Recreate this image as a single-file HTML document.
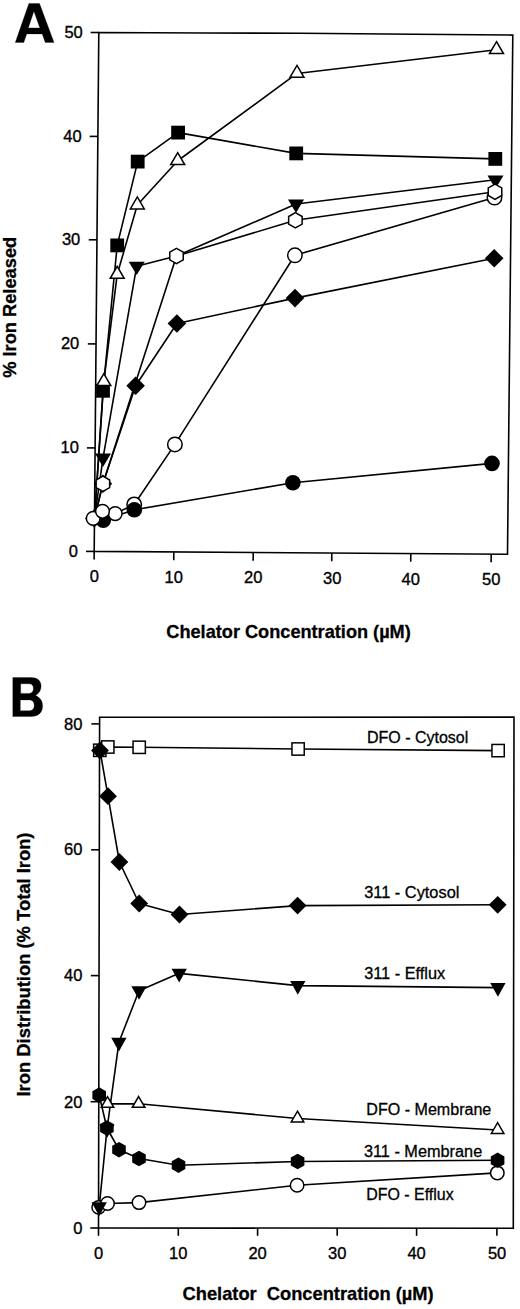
<!DOCTYPE html>
<html><head><meta charset="utf-8"><style>
html,body{margin:0;padding:0;background:#fff;}
body{width:520px;height:1309px;overflow:hidden;}
svg{display:block;}
text{font-family:"Liberation Sans",sans-serif;fill:#000;}
</style></head><body>
<svg width="520" height="1309" viewBox="0 0 520 1309">
<rect width="520" height="1309" fill="#fff"/>
<path d="M94.2,551.4 L98.8,32.5 L205,33.0 L300,33.3 L415,34.2 L512.8,35.1 L507.5,554.2 Z" fill="none" stroke="#000" stroke-width="1.6" stroke-linejoin="miter"/>
<line x1="90.6" y1="32.5" x2="98.8" y2="32.5" stroke="#000" stroke-width="1.6"/>
<line x1="89.68" y1="136.4" x2="97.88" y2="136.4" stroke="#000" stroke-width="1.6"/>
<line x1="88.76" y1="239.8" x2="96.96" y2="239.8" stroke="#000" stroke-width="1.6"/>
<line x1="87.84" y1="343.9" x2="96.04" y2="343.9" stroke="#000" stroke-width="1.6"/>
<line x1="86.92" y1="447.9" x2="95.12" y2="447.9" stroke="#000" stroke-width="1.6"/>
<line x1="86" y1="551.4" x2="94.2" y2="551.4" stroke="#000" stroke-width="1.6"/>
<line x1="94.2" y1="551.4" x2="94.13" y2="559.6" stroke="#000" stroke-width="1.6"/>
<line x1="173.8" y1="551.94" x2="173.73" y2="560.14" stroke="#000" stroke-width="1.6"/>
<line x1="253.2" y1="552.48" x2="253.13" y2="560.68" stroke="#000" stroke-width="1.6"/>
<line x1="331.8" y1="553.02" x2="331.73" y2="561.22" stroke="#000" stroke-width="1.6"/>
<line x1="410.8" y1="553.55" x2="410.73" y2="561.75" stroke="#000" stroke-width="1.6"/>
<line x1="491.2" y1="554.1" x2="491.13" y2="562.3" stroke="#000" stroke-width="1.6"/>
<polyline points="94,518 103.3,520.3 134.3,509.8 292.9,482.7 492,463.4" fill="none" stroke="#000" stroke-width="1.6" stroke-linejoin="round"/>
<polyline points="93.2,518.4 102.5,511.3 115.2,513.6 134.2,504.5 174.9,444.4 294.9,255.3 494.5,197.6" fill="none" stroke="#000" stroke-width="1.6" stroke-linejoin="round"/>
<polyline points="94.5,518 102.9,483.8 135.6,385.8 176.9,323.5 295,298.1 494.2,258.3" fill="none" stroke="#000" stroke-width="1.6" stroke-linejoin="round"/>
<polyline points="94.5,518 103,390.8 117.2,245.4 137.7,161.6 178.1,132.6 296.2,153.4 495.3,158.9" fill="none" stroke="#000" stroke-width="1.6" stroke-linejoin="round"/>
<polyline points="94.5,518 103.8,381.73 117.2,274.43 137.3,205.03 177.7,160.73 297,73.43 496.5,49.73" fill="none" stroke="#000" stroke-width="1.6" stroke-linejoin="round"/>
<polyline points="94.5,518 103,458.03 136.7,266.23 176.5,256 296,204.03 495.5,179.83" fill="none" stroke="#000" stroke-width="1.6" stroke-linejoin="round"/>
<polyline points="94.5,518 102.9,483.8 176.5,256 295.4,220.3 495,191.7" fill="none" stroke="#000" stroke-width="1.6" stroke-linejoin="round"/>
<circle cx="103.3" cy="520.3" r="7.8" fill="#000"/>
<circle cx="292.9" cy="482.7" r="7.8" fill="#000"/>
<circle cx="492" cy="463.4" r="7.8" fill="#000"/>
<polygon points="94.2,509.2 103.4,518.4 94.2,527.6 85,518.4" fill="#000"/>
<polygon points="102.9,474.5 112.2,483.8 102.9,493.1 93.6,483.8" fill="#000"/>
<polygon points="135.6,376.5 144.9,385.8 135.6,395.1 126.3,385.8" fill="#000"/>
<polygon points="176.9,314.2 186.2,323.5 176.9,332.8 167.6,323.5" fill="#000"/>
<polygon points="295,288.8 304.3,298.1 295,307.4 285.7,298.1" fill="#000"/>
<polygon points="494.2,249 503.5,258.3 494.2,267.6 484.9,258.3" fill="#000"/>
<rect x="96.1" y="383.9" width="13.8" height="13.8" fill="#000"/>
<rect x="110.3" y="238.5" width="13.8" height="13.8" fill="#000"/>
<rect x="130.8" y="154.7" width="13.8" height="13.8" fill="#000"/>
<rect x="171.2" y="125.7" width="13.8" height="13.8" fill="#000"/>
<rect x="289.3" y="146.5" width="13.8" height="13.8" fill="#000"/>
<rect x="488.4" y="152" width="13.8" height="13.8" fill="#000"/>
<polygon points="103.8,373.66 110.77,385.58 96.83,385.58" fill="#fff" stroke="#000" stroke-width="1.5" stroke-linejoin="miter"/>
<polygon points="117.2,266.36 124.17,278.28 110.23,278.28" fill="#fff" stroke="#000" stroke-width="1.5" stroke-linejoin="miter"/>
<polygon points="137.3,196.96 144.28,208.88 130.33,208.88" fill="#fff" stroke="#000" stroke-width="1.5" stroke-linejoin="miter"/>
<polygon points="177.7,152.66 184.67,164.58 170.72,164.58" fill="#fff" stroke="#000" stroke-width="1.5" stroke-linejoin="miter"/>
<polygon points="297,65.36 303.98,77.28 290.02,77.28" fill="#fff" stroke="#000" stroke-width="1.5" stroke-linejoin="miter"/>
<polygon points="496.5,41.66 503.48,53.58 489.52,53.58" fill="#fff" stroke="#000" stroke-width="1.5" stroke-linejoin="miter"/>
<polygon points="95,453.6 111,453.6 103,466.9" fill="#000"/>
<polygon points="128.7,261.8 144.7,261.8 136.7,275.1" fill="#000"/>
<polygon points="288,199.6 304,199.6 296,212.9" fill="#000"/>
<polygon points="487.5,175.4 503.5,175.4 495.5,188.7" fill="#000"/>
<circle cx="134.2" cy="504.5" r="7.25" fill="#fff" stroke="#000" stroke-width="1.5"/>
<circle cx="174.9" cy="444.4" r="7.25" fill="#fff" stroke="#000" stroke-width="1.5"/>
<circle cx="294.9" cy="255.3" r="7.25" fill="#fff" stroke="#000" stroke-width="1.5"/>
<circle cx="494.5" cy="197.6" r="7.25" fill="#fff" stroke="#000" stroke-width="1.5"/>
<circle cx="115.2" cy="513.6" r="6.85" fill="#fff" stroke="#000" stroke-width="1.5"/>
<circle cx="93.2" cy="518.4" r="6.85" fill="#fff" stroke="#000" stroke-width="1.5"/>
<circle cx="102.5" cy="511.3" r="6.85" fill="#fff" stroke="#000" stroke-width="1.5"/>
<polygon points="102.9,476.2 109.65,480 109.65,487.6 102.9,491.4 96.15,487.6 96.15,480" fill="#fff" stroke="#000" stroke-width="1.5"/>
<polygon points="176.5,248.4 183.25,252.2 183.25,259.8 176.5,263.6 169.75,259.8 169.75,252.2" fill="#fff" stroke="#000" stroke-width="1.5"/>
<polygon points="295.4,212.7 302.15,216.5 302.15,224.1 295.4,227.9 288.65,224.1 288.65,216.5" fill="#fff" stroke="#000" stroke-width="1.5"/>
<polygon points="495,184.1 501.75,187.9 501.75,195.5 495,199.3 488.25,195.5 488.25,187.9" fill="#fff" stroke="#000" stroke-width="1.5"/>
<circle cx="134.3" cy="509.8" r="7.8" fill="#000"/>
<path d="M98.5,1228 L99.6,717.3 L514,717.1 L513.3,1228.2 Z" fill="none" stroke="#000" stroke-width="1.6" stroke-linejoin="miter"/>
<line x1="91.39" y1="723.9" x2="99.59" y2="723.9" stroke="#000" stroke-width="1.6"/>
<line x1="91.11" y1="849.8" x2="99.31" y2="849.8" stroke="#000" stroke-width="1.6"/>
<line x1="90.84" y1="975.6" x2="99.04" y2="975.6" stroke="#000" stroke-width="1.6"/>
<line x1="90.57" y1="1101.7" x2="98.77" y2="1101.7" stroke="#000" stroke-width="1.6"/>
<line x1="90.3" y1="1228" x2="98.5" y2="1228" stroke="#000" stroke-width="1.6"/>
<line x1="98.5" y1="1228.1" x2="98.5" y2="1235.8" stroke="#000" stroke-width="1.6"/>
<line x1="178.3" y1="1228.1" x2="178.3" y2="1235.8" stroke="#000" stroke-width="1.6"/>
<line x1="257.6" y1="1228.1" x2="257.6" y2="1235.8" stroke="#000" stroke-width="1.6"/>
<line x1="337.2" y1="1228.1" x2="337.2" y2="1235.8" stroke="#000" stroke-width="1.6"/>
<line x1="416.6" y1="1228.1" x2="416.6" y2="1235.8" stroke="#000" stroke-width="1.6"/>
<line x1="496.9" y1="1228.1" x2="496.9" y2="1235.8" stroke="#000" stroke-width="1.6"/>
<polyline points="99.8,750.3 107.8,747 139.2,747.3 298.1,749 498.1,750.6" fill="none" stroke="#000" stroke-width="1.6" stroke-linejoin="round"/>
<polyline points="100,750.5 108,796.2 119.4,862 139.2,903.5 179.5,914.5 297.6,905.6 497.7,904.8" fill="none" stroke="#000" stroke-width="1.6" stroke-linejoin="round"/>
<polyline points="98.6,1207.3 107.5,1203.5 139,1202.6 297.1,1185.2 497.3,1172.9" fill="none" stroke="#000" stroke-width="1.6" stroke-linejoin="round"/>
<polyline points="99.2,1095.1 107.5,1103.9 138.6,1103.8 297.5,1118.5 497.6,1130" fill="none" stroke="#000" stroke-width="1.6" stroke-linejoin="round"/>
<polyline points="99.2,1206.83 107,1129 118.9,1042.33 139,990.73 179.2,973.33 297.8,985.63 497.9,987.63" fill="none" stroke="#000" stroke-width="1.6" stroke-linejoin="round"/>
<polyline points="99.2,1095.1 106.9,1128 119,1149.7 139,1158.5 178.5,1165.2 297.6,1161.5 497.6,1160.3" fill="none" stroke="#000" stroke-width="1.6" stroke-linejoin="round"/>
<rect x="93.65" y="744.15" width="12.3" height="12.3" fill="#fff" stroke="#000" stroke-width="1.5"/>
<rect x="101.65" y="740.85" width="12.3" height="12.3" fill="#fff" stroke="#000" stroke-width="1.5"/>
<rect x="133.05" y="741.15" width="12.3" height="12.3" fill="#fff" stroke="#000" stroke-width="1.5"/>
<rect x="291.95" y="742.85" width="12.3" height="12.3" fill="#fff" stroke="#000" stroke-width="1.5"/>
<rect x="491.95" y="744.45" width="12.3" height="12.3" fill="#fff" stroke="#000" stroke-width="1.5"/>
<polygon points="100,741.6 108.9,750.5 100,759.4 91.1,750.5" fill="#000"/>
<polygon points="108,787.3 116.9,796.2 108,805.1 99.1,796.2" fill="#000"/>
<polygon points="119.4,853.1 128.3,862 119.4,870.9 110.5,862" fill="#000"/>
<polygon points="139.2,894.6 148.1,903.5 139.2,912.4 130.3,903.5" fill="#000"/>
<polygon points="179.5,905.6 188.4,914.5 179.5,923.4 170.6,914.5" fill="#000"/>
<polygon points="297.6,896.7 306.5,905.6 297.6,914.5 288.7,905.6" fill="#000"/>
<polygon points="497.7,895.9 506.6,904.8 497.7,913.7 488.8,904.8" fill="#000"/>
<circle cx="98.6" cy="1207.3" r="6.65" fill="#fff" stroke="#000" stroke-width="1.5"/>
<circle cx="107.5" cy="1203.5" r="6.75" fill="#fff" stroke="#000" stroke-width="1.5"/>
<circle cx="139" cy="1202.6" r="6.75" fill="#fff" stroke="#000" stroke-width="1.5"/>
<circle cx="297.1" cy="1185.2" r="6.75" fill="#fff" stroke="#000" stroke-width="1.5"/>
<circle cx="497.3" cy="1172.9" r="6.75" fill="#fff" stroke="#000" stroke-width="1.5"/>
<polygon points="107.5,1096.62 113.78,1107.35 101.22,1107.35" fill="#fff" stroke="#000" stroke-width="1.5" stroke-linejoin="miter"/>
<polygon points="138.6,1096.52 144.88,1107.25 132.32,1107.25" fill="#fff" stroke="#000" stroke-width="1.5" stroke-linejoin="miter"/>
<polygon points="297.5,1111.22 303.77,1121.95 291.23,1121.95" fill="#fff" stroke="#000" stroke-width="1.5" stroke-linejoin="miter"/>
<polygon points="497.6,1122.72 503.88,1133.45 491.33,1133.45" fill="#fff" stroke="#000" stroke-width="1.5" stroke-linejoin="miter"/>
<polygon points="91.55,1202.3 106.85,1202.3 99.2,1215.9" fill="#000"/>
<polygon points="99.35,1124.47 114.65,1124.47 107,1138.07" fill="#000"/>
<polygon points="111.25,1037.8 126.55,1037.8 118.9,1051.4" fill="#000"/>
<polygon points="131.35,986.2 146.65,986.2 139,999.8" fill="#000"/>
<polygon points="171.55,968.8 186.85,968.8 179.2,982.4" fill="#000"/>
<polygon points="290.15,981.1 305.45,981.1 297.8,994.7" fill="#000"/>
<polygon points="490.25,983.1 505.55,983.1 497.9,996.7" fill="#000"/>
<polygon points="99.2,1087.3 106,1091.2 106,1099 99.2,1102.9 92.4,1099 92.4,1091.2" fill="#000"/>
<polygon points="106.9,1120.2 113.7,1124.1 113.7,1131.9 106.9,1135.8 100.1,1131.9 100.1,1124.1" fill="#000"/>
<polygon points="119,1141.9 125.8,1145.8 125.8,1153.6 119,1157.5 112.2,1153.6 112.2,1145.8" fill="#000"/>
<polygon points="139,1150.7 145.8,1154.6 145.8,1162.4 139,1166.3 132.2,1162.4 132.2,1154.6" fill="#000"/>
<polygon points="178.5,1157.4 185.3,1161.3 185.3,1169.1 178.5,1173 171.7,1169.1 171.7,1161.3" fill="#000"/>
<polygon points="297.6,1153.7 304.4,1157.6 304.4,1165.4 297.6,1169.3 290.8,1165.4 290.8,1157.6" fill="#000"/>
<polygon points="497.6,1152.5 504.4,1156.4 504.4,1164.2 497.6,1168.1 490.8,1164.2 490.8,1156.4" fill="#000"/>
<path d="M15.3,42.4 L28.9,3.5 L39.5,3.5 L54,42.4 L45.3,42.4 L42.2,33.9 L26.7,33.9 L23.8,42.4 Z M33.9,11.3 L28.3,27.9 L39.9,27.9 Z" fill="#000" fill-rule="evenodd" stroke="#000" stroke-width="0.3" stroke-linejoin="round"/>
<text x="82.8" y="38.1" font-size="16.5" text-anchor="end" stroke="#000" stroke-width="0.35">50</text>
<text x="81.7" y="141.7" font-size="16.5" text-anchor="end" stroke="#000" stroke-width="0.35">40</text>
<text x="80.3" y="245.45" font-size="16.5" text-anchor="end" stroke="#000" stroke-width="0.35">30</text>
<text x="79.3" y="349.4" font-size="16.5" text-anchor="end" stroke="#000" stroke-width="0.35">20</text>
<text x="78.9" y="453.35" font-size="16.5" text-anchor="end" stroke="#000" stroke-width="0.35">10</text>
<text x="77.9" y="556.95" font-size="16.5" text-anchor="end" stroke="#000" stroke-width="0.35">0</text>
<text x="94.3" y="582.4" font-size="16.5" text-anchor="middle" stroke="#000" stroke-width="0.35">0</text>
<text x="173.8" y="582.94" font-size="16.5" text-anchor="middle" stroke="#000" stroke-width="0.35">10</text>
<text x="253.2" y="583.48" font-size="16.5" text-anchor="middle" stroke="#000" stroke-width="0.35">20</text>
<text x="332.2" y="584.02" font-size="16.5" text-anchor="middle" stroke="#000" stroke-width="0.35">30</text>
<text x="410.8" y="584.55" font-size="16.5" text-anchor="middle" stroke="#000" stroke-width="0.35">40</text>
<text x="491.2" y="585.1" font-size="16.5" text-anchor="middle" stroke="#000" stroke-width="0.35">50</text>
<text x="166.3" y="637.9" font-size="18.5" font-weight="bold" text-anchor="start" stroke="#000" stroke-width="0.3" textLength="244.5" lengthAdjust="spacingAndGlyphs">Chelator Concentration (µM)</text>
<text transform="translate(16.4,377.8) rotate(-90)" font-size="18.5" font-weight="bold" stroke="#000" stroke-width="0.3" textLength="141" lengthAdjust="spacingAndGlyphs">% Iron Released</text>
<path d="M12.8,677.6 H31 C37.5,677.6 41.1,680.8 41.1,686.3 C41.1,690.5 38.8,693.6 35.5,695.6 C40,697.3 42.6,701 42.6,706 C42.6,712.5 38.2,716.5 31.5,716.5 H12.8 Z M20.7,683.8 H29 C31.9,683.8 33.4,685.5 33.4,688.6 C33.4,691.6 31.9,693.4 29,693.4 H20.7 Z M20.3,699.9 H29.5 C32.6,699.9 34.2,702.1 34.2,705.3 C34.2,708.6 32.6,710.7 29.5,710.7 H20.3 Z" fill="#000" fill-rule="evenodd" stroke="#000" stroke-width="0.3"/>
<text x="82.4" y="729.8" font-size="16.5" text-anchor="end" stroke="#000" stroke-width="0.35">80</text>
<text x="82.4" y="855.3" font-size="16.5" text-anchor="end" stroke="#000" stroke-width="0.35">60</text>
<text x="82.4" y="981.45" font-size="16.5" text-anchor="end" stroke="#000" stroke-width="0.35">40</text>
<text x="82.4" y="1107.55" font-size="16.5" text-anchor="end" stroke="#000" stroke-width="0.35">20</text>
<text x="82.4" y="1234.1" font-size="16.5" text-anchor="end" stroke="#000" stroke-width="0.35">0</text>
<text x="98.5" y="1259.2" font-size="16.5" text-anchor="middle" stroke="#000" stroke-width="0.35">0</text>
<text x="178.3" y="1259.2" font-size="16.5" text-anchor="middle" stroke="#000" stroke-width="0.35">10</text>
<text x="257.6" y="1259.2" font-size="16.5" text-anchor="middle" stroke="#000" stroke-width="0.35">20</text>
<text x="337.2" y="1259.2" font-size="16.5" text-anchor="middle" stroke="#000" stroke-width="0.35">30</text>
<text x="416.6" y="1259.2" font-size="16.5" text-anchor="middle" stroke="#000" stroke-width="0.35">40</text>
<text x="497.1" y="1259.2" font-size="16.5" text-anchor="middle" stroke="#000" stroke-width="0.35">50</text>
<text x="182.6" y="1300" font-size="18.5" font-weight="bold" text-anchor="start" stroke="#000" stroke-width="0.3" textLength="251" lengthAdjust="spacingAndGlyphs">Chelator&#160;&#160;Concentration (µM)</text>
<text transform="translate(30,1096.5) rotate(-90)" font-size="18.5" font-weight="bold" stroke="#000" stroke-width="0.3" textLength="264" lengthAdjust="spacingAndGlyphs">Iron Distribution (% Total Iron)</text>
<text x="367" y="742.9" font-size="16" text-anchor="start" stroke="#000" stroke-width="0.3" textLength="101.3" lengthAdjust="spacingAndGlyphs">DFO - Cytosol</text>
<text x="364.2" y="898.4" font-size="16" text-anchor="start" stroke="#000" stroke-width="0.3" textLength="95.2" lengthAdjust="spacingAndGlyphs">311 - Cytosol</text>
<text x="364.2" y="978.8" font-size="16" text-anchor="start" stroke="#000" stroke-width="0.3" textLength="81" lengthAdjust="spacingAndGlyphs">311 - Efflux</text>
<text x="366.3" y="1115.2" font-size="16" text-anchor="start" stroke="#000" stroke-width="0.3" textLength="125" lengthAdjust="spacingAndGlyphs">DFO - Membrane</text>
<text x="363.9" y="1157.1" font-size="16" text-anchor="start" stroke="#000" stroke-width="0.3" textLength="118.3" lengthAdjust="spacingAndGlyphs">311 - Membrane</text>
<text x="366.2" y="1200" font-size="16" text-anchor="start" stroke="#000" stroke-width="0.3" textLength="87.5" lengthAdjust="spacingAndGlyphs">DFO - Efflux</text>
</svg>
</body></html>
